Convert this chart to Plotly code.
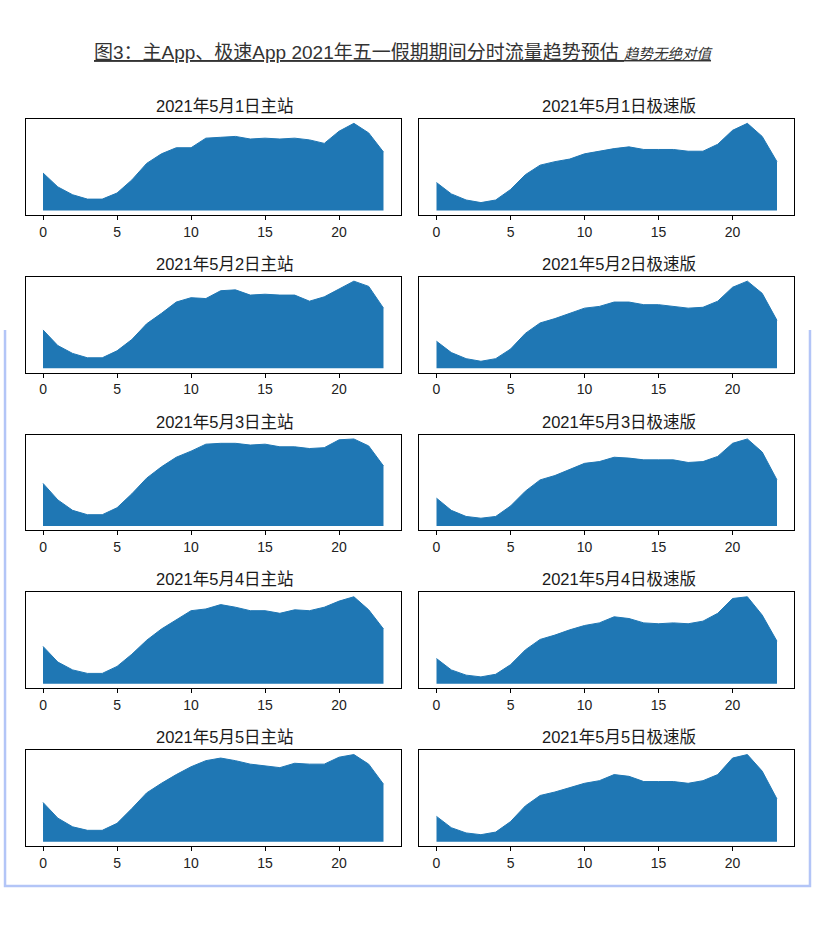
import plotly.graph_objects as go
from plotly.subplots import make_subplots

hours = list(range(24))
day_labels = ["2021年5月1日", "2021年5月2日", "2021年5月3日", "2021年5月4日", "2021年5月5日"]
app_labels = ["主站", "极速版"]
tick_hours = [0, 5, 10, 15, 20]

# 分时流量, 每天峰值 = 100 (无绝对值)
main_may1 = [43, 27, 18, 13, 13, 20, 35, 54, 65, 72, 72, 83, 84, 85, 82, 83, 82, 83, 81, 77, 91, 100, 89, 67]
lite_may1 = [32, 19, 12, 9, 12, 24, 41, 52, 56, 59, 65, 68, 71, 73, 70, 70, 70, 68, 68, 76, 92, 100, 85, 56]
main_may2 = [44, 26, 17, 12, 12, 20, 33, 51, 63, 76, 81, 80, 89, 90, 84, 85, 84, 84, 77, 82, 91, 100, 94, 69]
lite_may2 = [31, 18, 11, 8, 11, 22, 40, 52, 57, 63, 69, 71, 76, 76, 73, 73, 71, 69, 70, 77, 93, 100, 86, 55]
main_may3 = [49, 30, 18, 13, 13, 21, 37, 55, 68, 79, 86, 94, 95, 95, 93, 94, 91, 91, 89, 90, 99, 100, 92, 69]
lite_may3 = [32, 18, 11, 9, 11, 23, 40, 53, 58, 65, 72, 74, 79, 78, 76, 76, 76, 73, 74, 80, 95, 100, 85, 53]
main_may4 = [43, 25, 16, 12, 12, 20, 34, 50, 63, 74, 84, 86, 91, 88, 84, 84, 81, 85, 84, 88, 95, 100, 85, 63]
lite_may4 = [29, 16, 10, 8, 11, 22, 39, 51, 56, 62, 67, 70, 77, 75, 70, 69, 70, 69, 72, 81, 98, 100, 79, 49]
main_may5 = [45, 27, 17, 13, 13, 21, 38, 56, 67, 77, 86, 93, 96, 93, 89, 87, 85, 90, 89, 89, 97, 100, 89, 66]
lite_may5 = [29, 16, 10, 8, 11, 23, 41, 53, 57, 62, 67, 70, 77, 75, 69, 69, 69, 67, 70, 77, 96, 100, 81, 49]

series = [
    [main_may1, lite_may1],
    [main_may2, lite_may2],
    [main_may3, lite_may3],
    [main_may4, lite_may4],
    [main_may5, lite_may5],
]

titles = [d + a for d in day_labels for a in app_labels]

fig = make_subplots(
    rows = 5,
    cols = 2,
    subplot_titles = titles,
    horizontal_spacing = 0.0247,
    vertical_spacing = 0.0853
)

for r in range(5):
    for c in range(2):
        fig.add_trace(
            go.Scatter(
                x = hours,
                y = series[r][c],
                mode = "lines",
                fill = "tozeroy",
                fillcolor = "#1f77b4",
                line = dict(color = "#1f77b4", width = 1),
                showlegend = False,
                hoverinfo = "skip"
            ),
            row = r + 1,
            col = c + 1
        )

fig.update_xaxes(
    range = [-1.15, 24.15],
    tickmode = "array",
    tickvals = tick_hours,
    ticks = "outside",
    ticklen = 4,
    tickcolor = "black",
    showline = True,
    mirror = True,
    linecolor = "black",
    linewidth = 1,
    showgrid = False,
    zeroline = False,
    tickfont = dict(family = "Liberation Sans, Arial", size = 14, color = "#222222")
)

fig.update_yaxes(
    range = [-5, 105],
    showticklabels = False,
    ticks = "",
    showline = True,
    mirror = True,
    linecolor = "black",
    linewidth = 1,
    showgrid = False,
    zeroline = False
)

for ann in fig.layout.annotations:
    ann.font = dict(family = "Liberation Sans, Noto Sans CJK SC", size = 16.5, color = "#1a1a1a")
    ann.yshift = 2
    ann.xshift = 12

fig.add_annotation(
    text = "<u>图3：主App、极速App 2021年五一假期期间分时流量趋势预估 <i><span style='font-size:14.5px'>趋势无绝对值</span></i></u>",
    xref = "paper",
    yref = "paper",
    x = 0.492,
    y = 1.092,
    yanchor = "middle",
    showarrow = False,
    font = dict(family = "Liberation Sans, Noto Sans CJK SC", size = 19, color = "#333333")
)

# light blue frame round the lower part of the page
fig.add_shape(
    type = "path",
    path = "M -0.0273,0.7098 L -0.0273,-0.055 L 1.0208,-0.055 L 1.0208,0.7098",
    xref = "paper",
    yref = "paper",
    line = dict(color = "#b3c5f7", width = 2.5)
)

fig.update_layout(
    width = 817,
    height = 941,
    margin = dict(l = 26, r = 23, t = 119, b = 95),
    plot_bgcolor = "white",
    paper_bgcolor = "white"
)

fig.write_html(
    "out.html",
    config = {"displayModeBar": False},
    post_script = "document.body.style.margin = '0';"
)
